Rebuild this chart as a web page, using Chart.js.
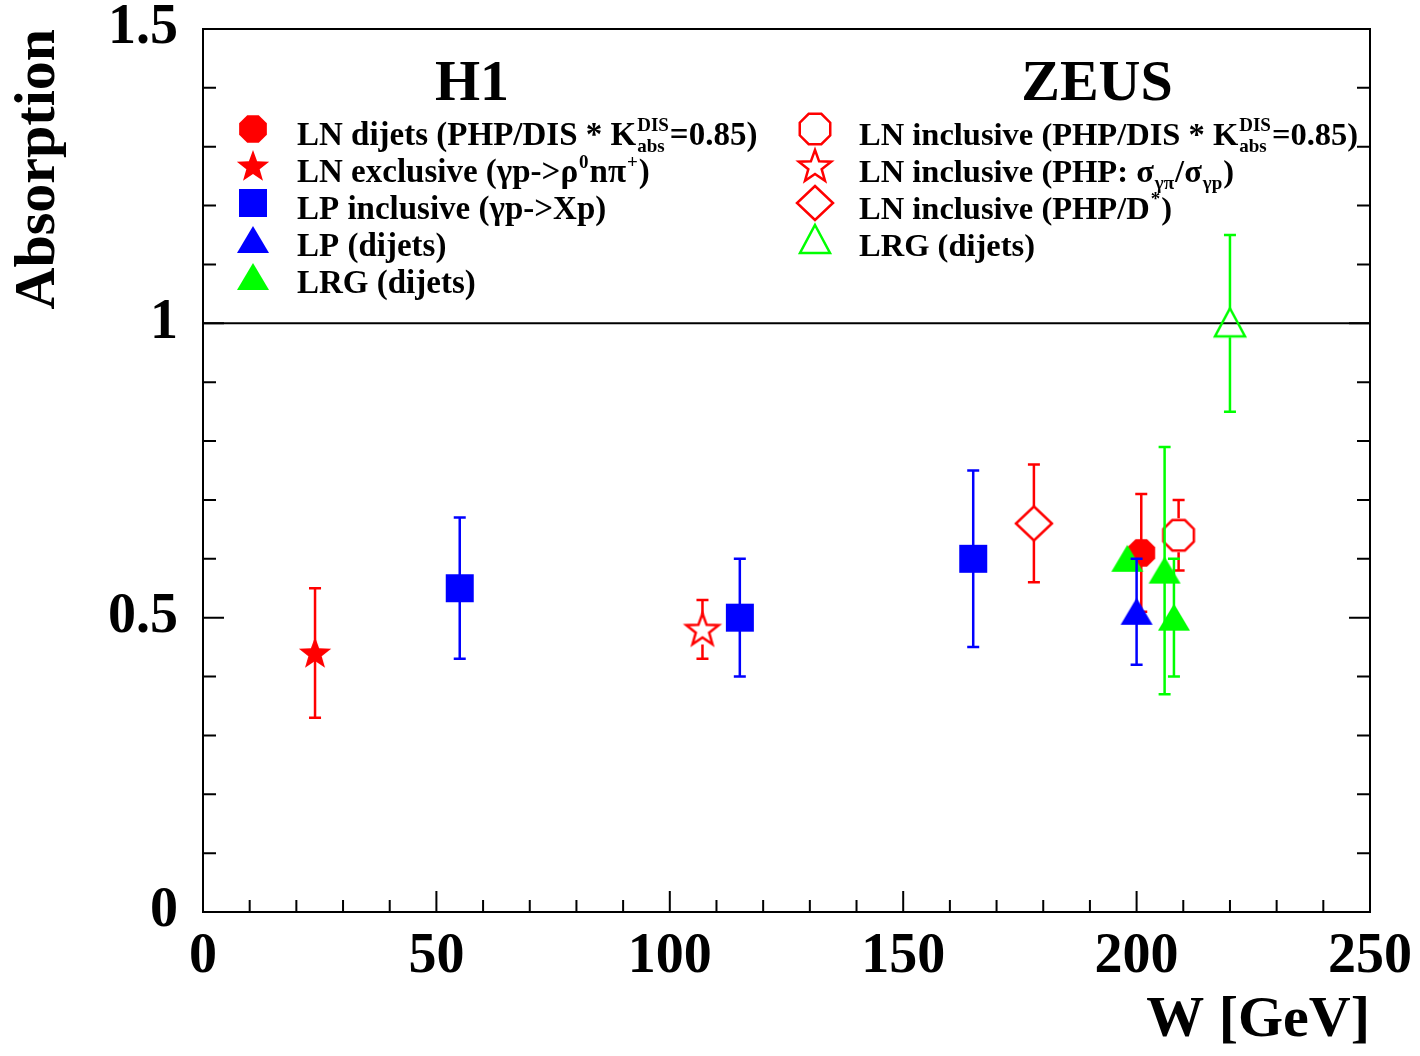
<!DOCTYPE html>
<html>
<head>
<meta charset="utf-8">
<script src="https://cdn.jsdelivr.net/npm/chart.js@4.4.1/dist/chart.umd.min.js"></script>
<style>
  html, body { margin: 0; padding: 0; background: #fff; }
  #wrap { width: 1420px; height: 1056px; }
</style>
</head>
<body>
<div id="wrap"><canvas id="c" width="1420" height="1056"></canvas></div>
<script>
const FONT = '"Liberation Serif", "Times New Roman", serif';

// ---- data (W in GeV, absorption, symmetric error) ----
// H1
const lpDijetsW = [200];
const lpDijetsA = [0.51];
const lpDijetsE = [0.09];

const lrgH1W = [198, 206, 208];
const lrgH1A = [0.60, 0.58, 0.50];
const lrgH1E = [0, 0.21, 0.10];

const lnDijetsW = [201];
const lnDijetsA = [0.61];
const lnDijetsE = [0.10];

const lnExclW = [24];
const lnExclA = [0.44];
const lnExclE = [0.11];

const lpInclW = [55, 115, 165];
const lpInclA = [0.55, 0.50, 0.60];
const lpInclE = [0.12, 0.10, 0.15];

// ZEUS
const lnInclDisW = [209];
const lnInclDisA = [0.64];
const lnInclDisE = [0.06];

const lnInclPhpW = [107];
const lnInclPhpA = [0.48];
const lnInclPhpE = [0.05];

const lnInclDstW = [178];
const lnInclDstA = [0.66];
const lnInclDstE = [0.10];

const lrgZeusW = [220];
const lrgZeusA = [1.00];
const lrgZeusE = [0.15];

const refLine = 1.0;

// legend texts: strings are normal text, objects are sup/sub scripts
const legendH1 = [
  ['LN dijets (PHP/DIS * K', { sup: 'DIS', sub: 'abs' }, '=0.85)'],
  ['LN exclusive (\u03b3p->\u03c1', { sup: '0' }, 'n\u03c0', { sup: '+' }, ')'],
  ['LP inclusive (\u03b3p->Xp)'],
  ['LP (dijets)'],
  ['LRG (dijets)'],
];
const legendZeus = [
  ['LN inclusive (PHP/DIS * K', { sup: 'DIS', sub: 'abs' }, '=0.85)'],
  ['LN inclusive (PHP: \u03c3', { sub: '\u03b3\u03c0' }, '/\u03c3', { sub: '\u03b3p' }, ')'],
  ['LN inclusive (PHP/D', { sup: '*' }, ')'],
  ['LRG (dijets)'],
];

const RED = '#ff0000', BLUE = '#0000ff', GREEN = '#00ff00';

// ---- marker images ----
function marker(shape, color, filled) {
  const c = document.createElement('canvas');
  c.width = 44; c.height = 44;
  const g = c.getContext('2d');
  g.translate(22, 22);
  g.beginPath();
  if (shape === 'octagon') {
    const r = filled ? 15 : 16.5;
    for (let k = 0; k < 8; k++) {
      const a = Math.PI / 8 + k * Math.PI / 4;
      g.lineTo(r * Math.cos(a), r * Math.sin(a));
    }
  } else if (shape === 'star') {
    for (let k = 0; k < 10; k++) {
      const a = -Math.PI / 2 + k * Math.PI / 5;
      const r = k % 2 ? 7 : 17;
      g.lineTo(r * Math.cos(a), r * Math.sin(a) + 1);
    }
  } else if (shape === 'square') {
    g.rect(-14, -14, 28, 28);
  } else if (shape === 'triangle') {
    if (filled) { g.moveTo(0, -14); g.lineTo(16, 13); g.lineTo(-16, 13); }
    else { g.moveTo(0, -15); g.lineTo(15, 13); g.lineTo(-15, 13); }
  } else if (shape === 'diamond') {
    g.moveTo(0, -17); g.lineTo(18, 0); g.lineTo(0, 17); g.lineTo(-18, 0);
  }
  g.closePath();
  if (filled) { g.fillStyle = color; g.fill(); }
  else { g.strokeStyle = color; g.lineWidth = 2.5; g.lineJoin = 'miter'; g.stroke(); }
  return c;
}

const mk = {
  lnDijets: marker('octagon', RED, true),
  lnExcl: marker('star', RED, true),
  lpIncl: marker('square', BLUE, true),
  lpDijets: marker('triangle', BLUE, true),
  lrgH1: marker('triangle', GREEN, true),
  lnInclDis: marker('octagon', RED, false),
  lnInclPhp: marker('star', RED, false),
  lnInclDst: marker('diamond', RED, false),
  lrgZeus: marker('triangle', GREEN, false),
};

function pts(ws, as) { return ws.map((w, i) => ({ x: w, y: as[i] })); }

function series(label, ws, as, es, img, color, gap) {
  return { label, data: pts(ws, as), errors: es, pointStyle: img, barColor: color, gap,
    pointRadius: 22, pointHoverRadius: 22, showLine: false, clip: false };
}

// first dataset is drawn on top
const datasets = [
  series('LP (dijets)', lpDijetsW, lpDijetsA, lpDijetsE, mk.lpDijets, BLUE, 0),
  series('LRG (dijets) H1', lrgH1W, lrgH1A, lrgH1E, mk.lrgH1, GREEN, 0),
  series('LN dijets', lnDijetsW, lnDijetsA, lnDijetsE, mk.lnDijets, RED, 0),
  series('LN exclusive', lnExclW, lnExclA, lnExclE, mk.lnExcl, RED, 0),
  series('LP inclusive', lpInclW, lpInclA, lpInclE, mk.lpIncl, BLUE, 0),
  series('LN inclusive DIS', lnInclDisW, lnInclDisA, lnInclDisE, mk.lnInclDis, RED, 17),
  series('LN inclusive PHP', lnInclPhpW, lnInclPhpA, lnInclPhpE, mk.lnInclPhp, RED, 15),
  series('LN inclusive D*', lnInclDstW, lnInclDstA, lnInclDstE, mk.lnInclDst, RED, 17),
  series('LRG (dijets) ZEUS', lrgZeusW, lrgZeusA, lrgZeusE, mk.lrgZeus, GREEN, 14),
];

// ---- plugins ----
const errorBars = {
  id: 'errorBars',
  beforeDatasetDraw(chart, args) {
    const ds = chart.data.datasets[args.index];
    const ys = chart.scales.y;
    const ctx = chart.ctx;
    ctx.save();
    ctx.strokeStyle = ds.barColor;
    ctx.lineWidth = 2.5;
    args.meta.data.forEach((p, i) => {
      const e = ds.errors[i];
      if (!e) return;
      const v = ds.data[i].y;
      const top = ys.getPixelForValue(v + e);
      const bot = ys.getPixelForValue(v - e);
      ctx.beginPath();
      ctx.moveTo(p.x, top); ctx.lineTo(p.x, p.y - ds.gap);
      ctx.moveTo(p.x, p.y + ds.gap); ctx.lineTo(p.x, bot);
      ctx.moveTo(p.x - 6, top); ctx.lineTo(p.x + 6, top);
      ctx.moveTo(p.x - 6, bot); ctx.lineTo(p.x + 6, bot);
      ctx.stroke();
    });
    ctx.restore();
  }
};

function isMajor(v, step) { return Math.abs(v / step - Math.round(v / step)) < 1e-6; }

const frame = {
  id: 'frame',
  beforeDatasetsDraw(chart) {
    const { ctx, chartArea: a, scales: { y } } = chart;
    const py = y.getPixelForValue(refLine);
    ctx.save();
    ctx.strokeStyle = '#000'; ctx.lineWidth = 2;
    ctx.beginPath(); ctx.moveTo(a.left, py); ctx.lineTo(a.right, py); ctx.stroke();
    ctx.restore();
  },
  afterDatasetsDraw(chart) {
    const { ctx, chartArea: a, scales: { x, y } } = chart;
    ctx.save();
    ctx.strokeStyle = '#000'; ctx.lineWidth = 2;
    ctx.strokeRect(a.left, a.top, a.right - a.left, a.bottom - a.top);
    ctx.beginPath();
    x.ticks.forEach(t => {
      const px = x.getPixelForValue(t.value);
      const len = isMajor(t.value, 50) ? 21 : 12;
      ctx.moveTo(px, a.bottom); ctx.lineTo(px, a.bottom - len);
    });
    y.ticks.forEach(t => {
      const py = y.getPixelForValue(t.value);
      const len = isMajor(t.value, 0.5) ? 21 : 13;
      ctx.moveTo(a.left, py); ctx.lineTo(a.left + len, py);
      ctx.moveTo(a.right, py); ctx.lineTo(a.right - len, py);
    });
    ctx.stroke();
    ctx.restore();
  }
};

function drawRich(ctx, segs, x, y, size) {
  let cx = x;
  for (const s of segs) {
    if (typeof s === 'string') {
      ctx.font = 'bold ' + size + 'px ' + FONT;
      ctx.fillText(s, cx, y);
      cx += ctx.measureText(s).width;
    } else {
      ctx.font = 'bold ' + Math.round(size * 0.58) + 'px ' + FONT;
      let w = 0;
      if (s.sup) { ctx.fillText(s.sup, cx + 1, y - size * 0.42); w = Math.max(w, ctx.measureText(s.sup).width); }
      if (s.sub) { ctx.fillText(s.sub, cx + 1, y + size * 0.22); w = Math.max(w, ctx.measureText(s.sub).width); }
      cx += w + 2;
    }
  }
}

const legends = {
  id: 'legends',
  afterDraw(chart) {
    const ctx = chart.ctx;
    ctx.save();
    ctx.fillStyle = '#000';
    ctx.textAlign = 'center';
    ctx.textBaseline = 'alphabetic';
    ctx.font = 'bold 58px ' + FONT;
    ctx.fillText('H1', 472, 100);
    ctx.fillText('ZEUS', 1097, 100);

    ctx.textAlign = 'left';
    const h1Marks = [mk.lnDijets, mk.lnExcl, mk.lpIncl, mk.lpDijets, mk.lrgH1];
    const zMarks = [mk.lnInclDis, mk.lnInclPhp, mk.lnInclDst, mk.lrgZeus];
    legendH1.forEach((segs, i) => {
      ctx.drawImage(h1Marks[i], 253 - 22, 129 + i * 37 - 22);
      drawRich(ctx, segs, 297, 145 + i * 37, 33);
    });
    legendZeus.forEach((segs, i) => {
      ctx.drawImage(zMarks[i], 815 - 22, 129 + i * 37 - 22);
      drawRich(ctx, segs, 859, 145 + i * 37, 32.5);
    });
    ctx.restore();
  }
};

const tickFont = { family: FONT, size: 56, weight: 'bold' };

new Chart(document.getElementById('c'), {
  type: 'scatter',
  data: { datasets },
  options: {
    responsive: false,
    animation: false,
    devicePixelRatio: 1,
    layout: { padding: { left: 0, right: 50, top: 29, bottom: 0 } },
    plugins: { legend: { display: false }, tooltip: { enabled: false } },
    scales: {
      x: {
        type: 'linear', min: 0, max: 250,
        grid: { display: false, drawTicks: false },
        border: { display: false },
        ticks: {
          stepSize: 10, autoSkip: false, maxRotation: 0, padding: 12,
          color: '#000', font: tickFont,
          callback: v => isMajor(v, 50) ? String(Math.round(v)) : '',
        },
        title: { display: true, text: 'W [GeV]', align: 'end', color: '#000',
          font: { family: FONT, size: 58, weight: 'bold' }, padding: { top: 0, bottom: 0 } },
        afterFit(scale) { scale.height = 144; scale.paddingLeft = 0; scale.paddingRight = 0; },
      },
      y: {
        type: 'linear', min: 0, max: 1.5,
        grid: { display: false, drawTicks: false },
        border: { display: false },
        ticks: {
          stepSize: 0.1, autoSkip: false, padding: 25,
          color: '#000', font: tickFont,
          callback: v => isMajor(v, 0.5) ? String(Math.round(v * 10) / 10) : '',
        },
        title: { display: true, text: 'Absorption', align: 'end', color: '#000',
          font: { family: FONT, size: 58, weight: 'bold' }, padding: { top: 4, bottom: 0 } },
        afterFit(scale) { scale.width = 203; scale.paddingTop = 0; scale.paddingBottom = 0; },
      },
    },
  },
  plugins: [errorBars, frame, legends],
});
</script>
</body>
</html>
